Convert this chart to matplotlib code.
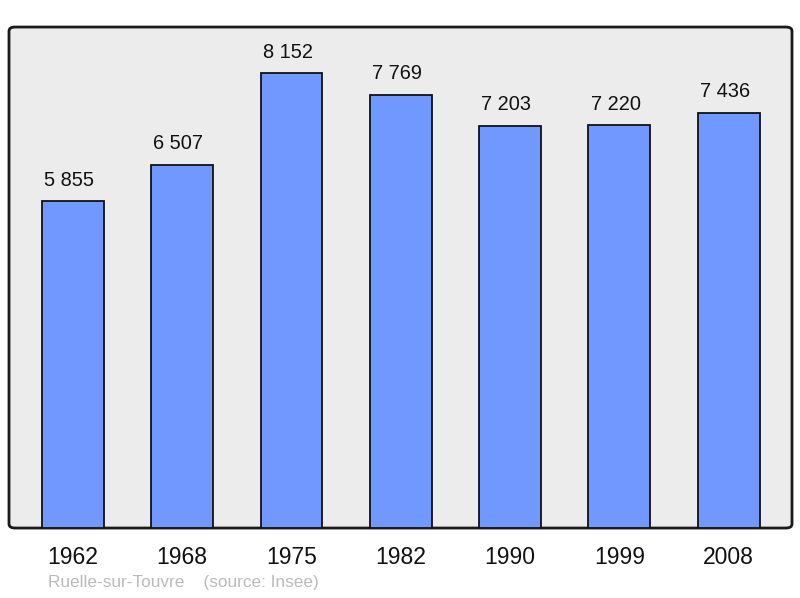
import matplotlib
matplotlib.use("Agg")
import matplotlib.pyplot as plt
from matplotlib.patches import FancyBboxPatch

plt.rcParams['font.family'] = ['Liberation Sans', 'DejaVu Sans']

years = ['1962', '1968', '1975', '1982', '1990', '1999', '2008']
population = [5855, 6507, 8152, 7769, 7203, 7220, 7436]
labels = ['5 855', '6 507', '8 152', '7 769', '7 203', '7 220', '7 436']

fig = plt.figure(figsize=(8, 5.98), dpi=100)
ax = fig.add_axes([0.01125, 0.117, 0.97875, 0.8378])
ax.set_facecolor('none')

# rounded grey background frame
bg = FancyBboxPatch((0, 0), 1, 1, boxstyle="round,pad=0,rounding_size=0.008",
                    transform=ax.transAxes, facecolor='#ececec', edgecolor='#1a1a1a',
                    linewidth=2, zorder=0, clip_on=False)
ax.add_patch(bg)

x = list(range(len(years)))
ax.bar(x, population, width=0.567, color='#7098ff', edgecolor='#111111', linewidth=1.3, zorder=2)

for i in x:
    ax.text(i - 0.035, population[i] + 380, labels[i], ha='center', va='center', fontsize=14.4, color='#111111')
    ax.text(i, -520, years[i], ha='center', va='center', fontsize=16.5, color='#111111')

ax.set_xlim(-0.585, 6.58)
ax.set_ylim(0, 8980)
for s in ax.spines.values():
    s.set_visible(False)
ax.set_xticks([])
ax.set_yticks([])

fig.text(48 / 800, 1 - 583 / 598, 'Ruelle-sur-Touvre    (source: Insee)', ha='left', va='center',
         fontsize=12.4, color='#bbbbbb')

fig.savefig('out.png', dpi=100)
